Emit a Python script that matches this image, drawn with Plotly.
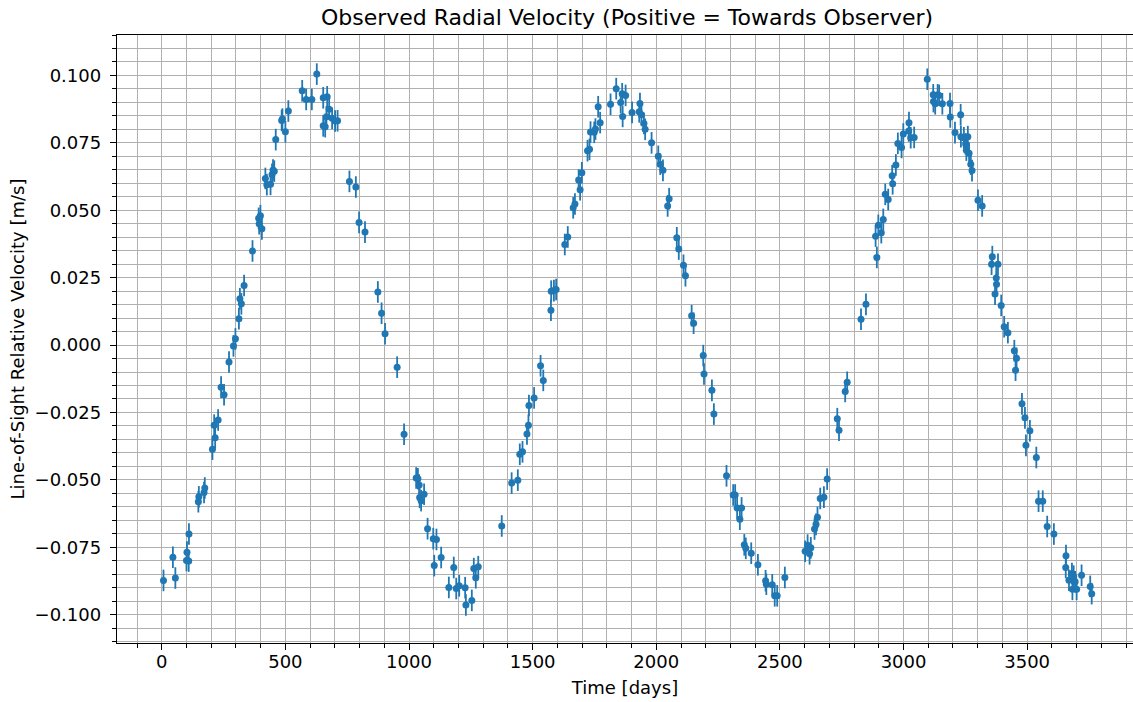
import plotly.graph_objects as go

# Observation times [days]
time_days = [
    7, 45, 55, 100, 102, 109, 110, 148, 150, 171, 174, 205, 212, 216, 228, 240, 252, 272,
    290, 298, 312, 316, 322, 333, 367, 392, 394, 399, 405, 419, 425, 440, 446, 450, 455,
    461, 485, 488, 500, 512, 568, 584, 607, 627, 653, 653, 661, 666, 669, 677, 689, 701,
    711, 759, 785, 798, 822, 874, 889, 903, 952, 980, 1029, 1036, 1041, 1043, 1049, 1061,
    1075, 1098, 1102, 1111, 1130, 1161, 1181, 1191, 1203, 1227, 1230, 1254, 1262, 1270,
    1280, 1375, 1415, 1440, 1448, 1459, 1477, 1483, 1485, 1506, 1532, 1543, 1574, 1575,
    1586, 1595, 1630, 1642, 1664, 1671, 1686, 1692, 1699, 1722, 1730, 1734, 1749, 1754,
    1765, 1773, 1815, 1838, 1856, 1862, 1864, 1876, 1902, 1931, 1934, 1940, 1950, 1955,
    1981, 2008, 2016, 2027, 2046, 2052, 2083, 2091, 2110, 2118, 2143, 2151, 2190, 2193,
    2225, 2233, 2284, 2311, 2319, 2327, 2338, 2345, 2356, 2362, 2384, 2411, 2442, 2445,
    2469, 2479, 2489, 2520, 2602, 2612, 2620, 2625, 2640, 2646, 2652, 2663, 2678, 2691,
    2732, 2739, 2764, 2772, 2828, 2848, 2887, 2892, 2898, 2910, 2918, 2926, 2938, 2954,
    2956, 2969, 2977, 2992, 2999, 3021, 3022, 3029, 3043, 3096, 3120, 3121, 3128, 3138,
    3144, 3157, 3188, 3189, 3208, 3231, 3232, 3244, 3251, 3254, 3260, 3265, 3272, 3277,
    3301, 3318, 3356, 3359, 3370, 3375, 3376, 3382, 3395, 3407, 3422, 3448, 3453, 3457,
    3479, 3491, 3495, 3511, 3537, 3546, 3563, 3581, 3608, 3656, 3657, 3669, 3681, 3683,
    3688, 3694, 3700, 3720, 3755, 3761,
]

# Line-of-sight relative velocity [m/s]
velocity_ms = [
    -0.0873, -0.0787, -0.0864, -0.0799, -0.0768, -0.0801, -0.0701, -0.0581, -0.0563,
    -0.0547, -0.0530, -0.0386, -0.0297, -0.0344, -0.0278, -0.0156, -0.0184, -0.0063,
    -0.0003, 0.0023, 0.0098, 0.0172, 0.0153, 0.0221, 0.0349, 0.0470, 0.0450, 0.0480,
    0.0431, 0.0618, 0.0595, 0.0596, 0.0633, 0.0649, 0.0645, 0.0762, 0.0833, 0.0838,
    0.0791, 0.0868, 0.0943, 0.0911, 0.0911, 0.1005, 0.0917, 0.0813, 0.0810, 0.0847,
    0.0921, 0.0875, 0.0841, 0.0831, 0.0832, 0.0607, 0.0586, 0.0455, 0.0419, 0.0197,
    0.0118, 0.0042, -0.0082, -0.0331, -0.0493, -0.0496, -0.0519, -0.0565, -0.0577,
    -0.0553, -0.0681, -0.0718, -0.0818, -0.0721, -0.0788, -0.0899, -0.0825, -0.0903,
    -0.0893, -0.0900, -0.0964, -0.0947, -0.0829, -0.0863, -0.0822, -0.0671, -0.0512,
    -0.0501, -0.0405, -0.0396, -0.0330, -0.0297, -0.0224, -0.0196, -0.0077, -0.0131,
    0.0129, 0.0200, 0.0202, 0.0206, 0.0373, 0.0401, 0.0509, 0.0523, 0.0612, 0.0576,
    0.0639, 0.0721, 0.0726, 0.0790, 0.0789, 0.0801, 0.0884, 0.0825, 0.0893, 0.0951,
    0.0900, 0.0932, 0.0848, 0.0926, 0.0863, 0.0865, 0.0896, 0.0854, 0.0822, 0.0800,
    0.0750, 0.0700, 0.0671, 0.0648, 0.0516, 0.0543, 0.0398, 0.0356, 0.0296, 0.0257,
    0.0109, 0.0081, -0.0039, -0.0107, -0.0168, -0.0256, -0.0485, -0.0556, -0.0556,
    -0.0604, -0.0646, -0.0604, -0.0741, -0.0754, -0.0772, -0.0815, -0.0874, -0.0887,
    -0.0889, -0.0930, -0.0930, -0.0862, -0.0765, -0.0742, -0.0774, -0.0752, -0.0682,
    -0.0665, -0.0639, -0.0569, -0.0564, -0.0497, -0.0273, -0.0316, -0.0172, -0.0138,
    0.0096, 0.0151, 0.0404, 0.0325, 0.0444, 0.0417, 0.0466, 0.0559, 0.0540, 0.0628,
    0.0598, 0.0668, 0.0748, 0.0733, 0.0783, 0.0794, 0.0825, 0.0769, 0.0770, 0.0986,
    0.0928, 0.0903, 0.0895, 0.0928, 0.0926, 0.0895, 0.0896, 0.0846, 0.0788, 0.0854,
    0.0773, 0.0769, 0.0746, 0.0723, 0.0773, 0.0711, 0.0671, 0.0647, 0.0537, 0.0516,
    0.0300, 0.0328, 0.0189, 0.0249, 0.0226, 0.0300, 0.0147, 0.0068, 0.0046, -0.0021,
    -0.0093, -0.0049, -0.0218, -0.0270, -0.0372, -0.0318, -0.0417, -0.0579, -0.0579,
    -0.0673, -0.0701, -0.0825, -0.0781, -0.0872, -0.0847, -0.0906, -0.0857, -0.0878,
    -0.0906, -0.0854, -0.0895, -0.0922,
]

# Measurement uncertainty [m/s]
velocity_err = 0.004

title_text = "Observed Radial Velocity (Positive = Towards Observer)"
x_label = "Time [days]"
y_label = "Line-of-Sight Relative Velocity [m/s]"

BLUE = "#1f77b4"
GRID = "#b0b0b0"
FONT = "DejaVu Sans"

fig = go.Figure()
fig.add_trace(go.Scatter(
    x=time_days,
    y=velocity_ms,
    mode="markers",
    marker=dict(color=BLUE, size=7, line=dict(width=0)),
    error_y=dict(type="constant", value=velocity_err, color=BLUE,
                 thickness=1.8, width=0),
    showlegend=False,
))

W, H = 1133, 702
L, R, T, B = 117, 0, 35, 59

axis_common = dict(
    showline=True, linecolor="black", linewidth=1.4,
    ticks="outside", ticklen=6, tickwidth=1.4, tickcolor="black",
    showgrid=True, gridcolor=GRID, gridwidth=1.4,
    zeroline=False, automargin=False,
    tickfont=dict(family=FONT, size=18, color="black"),
)

fig.update_layout(
    width=W, height=H,
    margin=dict(l=L, r=R, t=T, b=B, pad=0, autoexpand=False),
    paper_bgcolor="white", plot_bgcolor="white",
    font=dict(family=FONT, color="black"),
    title=dict(text=title_text, font=dict(family=FONT, size=22, color="black"),
               x=0.502, xref="paper", xanchor="center",
               y=1 - 17 / H, yref="container", yanchor="middle",
               automargin=False),
    xaxis=dict(
        **axis_common,
        range=[-181, 3928],
        tick0=0, dtick=500,
        mirror=True,
        ticklabelstandoff=-4,
        minor=dict(dtick=100, tick0=0, ticks="outside", ticklen=3.6, tickwidth=1.1,
                   tickcolor="black", showgrid=True, gridcolor=GRID, gridwidth=1.4),
        title=dict(text=x_label, font=dict(family=FONT, size=18, color="black"),
                   standoff=10),
    ),
    yaxis=dict(
        **axis_common,
        range=[-0.1105, 0.1150],
        tick0=0, dtick=0.025,
        tickformat=".3f",
        ticklabelstandoff=5,
        minor=dict(dtick=0.005, tick0=0, ticks="outside", ticklen=3.6, tickwidth=1.1,
                   tickcolor="black", showgrid=True, gridcolor=GRID, gridwidth=1.4),
        title=dict(text=y_label, font=dict(family=FONT, size=18, color="black"),
                   standoff=5),
    ),
)

# Remove the default page margin so the figure sits at the window's top-left corner.
fig.write_html(
    "out.html",
    config={"displayModeBar": False},
    post_script="document.body.style.margin='0';document.body.style.overflow='hidden';",
)
